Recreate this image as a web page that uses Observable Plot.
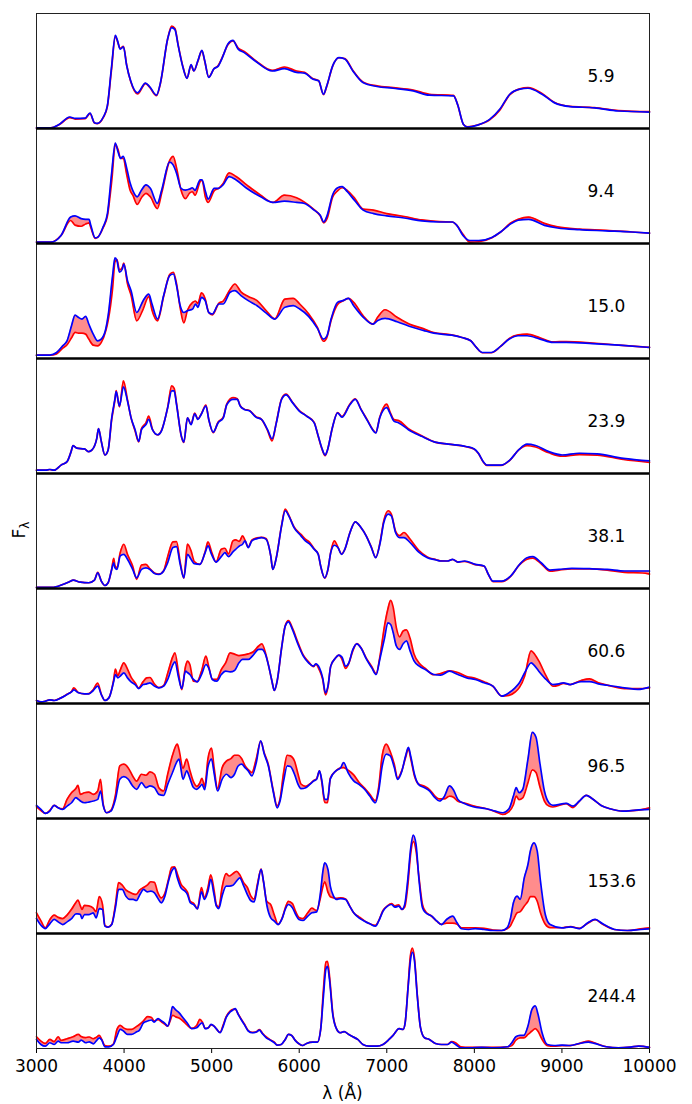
<!DOCTYPE html>
<html>
<head>
<meta charset="utf-8">
<script src="https://cdn.jsdelivr.net/npm/d3@7"></script>
<script src="https://cdn.jsdelivr.net/npm/@observablehq/plot@0.6"></script>
<style>
  html, body { margin: 0; padding: 0; background: #fff; }
  #chart { width: 692px; height: 1104px; }
</style>
</head>
<body>
<div id="chart"></div>
<script>
// Epoch labels (days), top to bottom
const epochs = ["5.9", "9.4", "15.0", "23.9", "38.1", "60.6", "96.5", "153.6", "244.4"];
const xTicks = [3000, 4000, 5000, 6000, 7000, 8000, 9000, 10000];

// Spectra: wavelength (Å), blue-model flux and red-model flux (scaled per panel, 0–100)
const wave1 = [3000,3165,3257,3381,3441,3556,3611,3662,3694,3763,3809,3855,3901,3924,3956,3993,4029,4075,4153,4245,4291,4370,4416,4498,4544,4581,4618,4673,4719,4765,4797,4843,4889,4921,4967,5027,5073,5119,5188,5243,5303,5372,5510,5693,5831,5969,6061,6153,6222,6277,6314,6383,6452,6521,6613,6727,6888,7072,7302,7486,7762,7808,7876,7922,8037,8175,8290,8405,8520,8612,8773,8911,9094,9370,9646,10000];
const blue1 = [0.5,0.5,3.5,10,8.8,9,13.5,5,4.4,10,19.6,52,81,76.6,69,71,55,41.5,31,39.5,36.5,29,40,78,87.7,86,72,53,43.6,55.6,50,59,68,59,44.4,52,54,61,73.7,76.6,69,66,58,50,52,48.8,48.2,43,41.5,29.8,37,54.7,61.7,60.5,50,40,36.5,35,32.7,29,28.4,21,3.5,1.2,2.9,7.9,16.7,29.8,34.2,35,29.8,22.5,19,18,15.2,14.3];
const red1 = [0.5,0.5,3.2,9.5,8.2,8.6,13,4.8,4.2,9.6,19,50,80,76,69.5,71.5,55.5,41,30,39,36,28.5,39.5,78,89,87,72.5,53.5,43.8,55,50,58.5,67.5,58.5,44.6,52,54.5,61.5,73,76.2,70,67,58.5,50.5,53.5,50,48.8,43.5,41.5,29.5,36.5,54.5,61.5,60.8,50.5,40.5,37,35.5,33.5,29.8,28.8,21,3.5,1.5,3,7.5,16,29.5,34.5,35.5,30.5,22.8,19.2,18.2,15.6,14.6];

const wave2 = [3000,3165,3280,3390,3440,3510,3560,3600,3620,3670,3700,3760,3810,3860,3900,3930,3960,3990,4030,4070,4100,4150,4200,4250,4300,4380,4430,4520,4560,4600,4650,4700,4750,4780,4810,4870,4890,4930,4960,5030,5080,5130,5200,5280,5400,5560,5700,5830,5970,6060,6170,6240,6280,6320,6380,6440,6490,6550,6630,6730,6850,7000,7200,7400,7600,7750,7800,7870,7950,8050,8200,8300,8420,8500,8620,8800,8950,9200,9500,9800,10000];
const blue2 = [1.2,1.2,7,23,24,21.6,21,21,15.8,5,5.5,14.3,26,62.6,87.4,80,74,75.7,65.5,52.3,46,40.6,46.5,51,48,34.8,46.5,70.8,68.4,61,48,46.5,47.4,48.5,46.2,55.3,55.3,45,38.6,48,48,51,58.2,55.3,48,40.6,35.7,36.8,35.7,34.8,29,24.6,18.7,24.6,42,48.5,49.4,45,37.7,29,26,24,22.2,19.6,18.7,18.7,15.8,7,2.6,2.6,5.3,10,17.3,20.2,21,15.8,13.5,12,11,10,9];
const red2 = [1.2,1.2,7,20,16,15,17,18,14,4.5,5.5,13.5,24,55,86,82,74,74,60,46,42,34,40,43.6,40.6,30.4,44,72,75.7,65.5,46.5,39,44,45,42,54,55,40,35.7,46,48,52,61.4,58.2,51,42,35.7,42,39.8,36,29.5,24,18,22,40,46,48.5,46,39.8,30,29,26,23.5,20.5,19,18.7,15.8,8,1.2,1.5,5,10,18,21,23,17.5,14.5,12.5,11.5,10,9];

const wave3 = [3000,3152,3230,3299,3349,3400,3441,3478,3519,3561,3597,3648,3699,3740,3791,3818,3869,3896,3919,3947,3979,3997,4039,4080,4144,4218,4282,4319,4383,4452,4521,4563,4599,4641,4682,4724,4783,4816,4843,4884,4926,4967,5008,5082,5133,5211,5266,5335,5418,5519,5624,5721,5836,5932,6006,6107,6208,6277,6314,6364,6438,6497,6562,6622,6732,6842,6897,6980,7118,7256,7417,7536,7739,7858,7959,8023,8092,8193,8299,8400,8501,8602,8750,8897,9048,9347,9651,10000];
const blue3 = [2.9,2.9,5.2,11,15.4,28.5,37.8,35.8,34.3,36.6,30,21.2,15.4,16.9,25.6,37.2,72,87.5,85,75,77.6,82,67.7,59,40,50.3,56,47.4,34.3,54.7,72,73.5,63.4,45.9,40,41.6,43,47.4,44.5,53.2,50.3,40,38.7,47.4,47.4,57.6,59,54.7,50.3,45.9,39.5,34.3,44.5,45.9,43,36.6,26.2,16.9,19.2,34.3,48.8,50.3,52.3,45.9,35.8,29.9,33,34.9,32,28,24.5,22,20.3,18.3,15.4,9.6,5.2,5.2,10.5,16.9,19.8,19.8,16.9,14,14,13,11.6,9.6];
const red3 = [2.9,2.9,4,9,12,18,22.7,22,22,21.2,16.9,11.6,11,14,24,33,61,84,86,77,79,83,65,55,32.8,43,54,42,32.8,54,73,75,65,44,31,42,48.8,50,48,57,52,40,38,48,50,60,64.8,58,54,50.3,41.5,34.5,51.7,52.3,47.4,39,27,15,18,33,47,50,52.3,48.8,37,29.9,36,42.4,35.8,30,26,22.6,20.5,18.3,15.4,9.6,5,5,10.5,17.5,20.5,21.2,18,14.5,14.8,13.5,11.6,9.6];

const wave4 = [3000,3101,3152,3202,3280,3349,3395,3418,3460,3547,3597,3634,3689,3708,3740,3781,3818,3859,3896,3910,3947,3993,4039,4080,4126,4167,4199,4250,4282,4324,4383,4425,4498,4544,4572,4599,4655,4682,4724,4765,4806,4843,4880,4935,4967,5018,5073,5133,5174,5243,5293,5326,5372,5436,5505,5569,5638,5690,5739,5799,5850,5923,6001,6084,6171,6213,6259,6296,6323,6378,6438,6488,6580,6640,6705,6782,6838,6874,6920,6998,7040,7081,7137,7247,7398,7550,7702,7904,8000,8046,8102,8143,8304,8405,8506,8602,8699,8851,9002,9200,9402,9701,10000];
const blue4 = [2.9,2.9,3.5,2.9,7.3,10.3,19,24.3,22,21.4,19,20.5,30.8,39,27.9,16.1,20.5,48.4,65,71.3,58.7,75.4,63,48.4,38.1,27.9,38.1,42.5,47,38.1,33.7,36.7,57.2,71.8,71.8,60,32.3,27.3,48.4,42.5,51.9,47,51.3,58.7,47,36,44,48.4,60,64.5,64.5,58.7,55.7,54.3,49,47,38.1,30.2,44,64.5,68.3,61.6,54.3,49.9,44,33.7,22,16.1,20.5,39.6,52.8,49,60,64.5,55.7,45.5,38.1,35.2,48.4,57.2,51.9,45.5,44,38.1,32.3,27.3,25.5,23.5,21.4,17.6,10.3,7.3,7.3,11.7,20.5,25.5,24.3,19,16.1,17.6,17,13.2,10.9];
const red4 = [2.9,2.9,3.5,2.9,7.3,10.3,19,24.3,22,21.4,19,20.5,30.8,39,27.9,16.1,20.5,47,64,72,58,80.6,64,48.4,37,27.5,39,44,49.9,38.5,33.5,37,57.5,76.2,74,61,32,27,48.4,43,52.5,47.5,51.5,59.5,47,35.5,44.5,49,60.5,66,65,59,56,54.5,49.5,47,37.5,28.4,44.5,65,69,62,54.8,50,44.5,33.5,21.5,15.5,20.5,39.6,53,49.5,60.5,65,56,46,38.5,35.5,49,60.4,53,47,46,39,32.8,27.3,25.5,23.3,21,17.5,10,7,7,11.5,20.5,24.3,23,18,15,16.5,16,12.2,9.7];

const wave5 = [3000,3152,3248,3322,3381,3418,3501,3597,3662,3699,3740,3781,3818,3859,3882,3896,3919,3956,3997,4039,4098,4144,4199,4250,4296,4347,4397,4452,4498,4558,4599,4641,4682,4724,4765,4802,4866,4926,4958,4999,5050,5110,5151,5192,5243,5275,5317,5353,5381,5418,5459,5519,5569,5620,5675,5698,5739,5799,5840,5882,5941,6020,6070,6121,6171,6217,6245,6291,6328,6360,6401,6442,6484,6521,6580,6640,6705,6764,6824,6874,6925,6966,7017,7053,7100,7146,7196,7265,7362,7463,7564,7614,7693,7752,7812,7890,8010,8111,8161,8212,8313,8414,8515,8602,8667,8763,8865,8966,9113,9315,9517,9715,9917,10000];
const blue5 = [0.9,0.9,2,4.1,6.1,7.3,5.5,5,7.3,13.7,6.4,2.6,5,16.6,22.4,18,16.6,28.3,29.7,25.4,16.6,9.3,16.6,18,16.6,13.1,12.2,15.2,22.4,35.6,36.4,21,9.3,29.7,25.4,21.6,21,31.2,37,29.7,23,27.7,31.2,27.7,31.8,34.1,37,38.5,41.4,35.6,41.4,43.4,44.3,42.9,28.3,16.6,26.8,54.5,67.6,63,53,45.8,41.4,38.5,34.1,29.7,19.5,9.3,16.6,31.2,37.6,35.6,29.7,34.1,48.7,58,53,45.8,35.6,26.8,40,57.4,64.7,63,48.7,44.3,44.3,40,31.8,26.8,24.8,23.9,23.9,25.4,23,23.9,21,19.5,12.2,6.4,6.4,10.8,20.9,26.8,27.7,22.4,16,16.6,17.5,17.2,16.6,15.2,15.2,15.2];
const red5 = [0.9,0.9,2,4.1,6.1,7.3,5.5,5,7.3,14,6.4,2.6,5,17,26.2,20,18,31.2,38.5,29.7,19.5,8,20.4,21,17,13.5,12.5,15.5,27.7,40.5,40.8,23,9,38.5,32.7,23.5,21,32,40.5,32,23,34.1,35,30,41.4,42.3,41,45.8,42,36,42,44,44.5,43.5,28.3,16.6,27,55,69,63.5,53.5,47,43,40,34.5,30,19.5,9,16.5,31.5,41.4,36,30,34,48.7,58,53,46,36,27,41,59,67.6,64.5,50,46,48.7,43,33.5,27.5,25,24,23.9,25.2,23,23.5,20.8,19.3,12,6,6,10.5,20.5,25.5,26.5,21.5,15,16,17,17,16,14,13.5,12.5];

const wave6 = [3000,3051,3101,3152,3202,3280,3349,3400,3427,3478,3547,3597,3648,3699,3740,3781,3827,3882,3901,3928,3956,3997,4039,4080,4126,4167,4218,4259,4296,4347,4397,4452,4498,4558,4581,4623,4659,4701,4724,4751,4792,4834,4884,4935,4967,5008,5059,5110,5160,5211,5261,5312,5353,5418,5477,5537,5574,5615,5656,5689,5716,5748,5799,5840,5877,5923,5987,6047,6107,6162,6190,6231,6268,6300,6328,6360,6410,6452,6488,6530,6567,6613,6658,6709,6769,6829,6879,6920,6975,7012,7044,7072,7109,7146,7187,7224,7265,7311,7371,7440,7536,7614,7716,7812,7913,8010,8111,8212,8313,8396,8465,8515,8575,8648,8676,8736,8819,8897,8966,9016,9094,9218,9315,9416,9517,9715,9866,10000];
const blue6 = [2.6,1.4,2,3.2,2.6,4.9,7.8,10.1,11.9,9.3,8.4,8.4,11.3,15.1,7.8,2.6,4.9,19.4,25.2,22.3,23.8,26.7,22.3,18.8,16.5,13,16.5,17.1,18,15.1,13.6,15.1,20.9,33.9,36.2,22.3,13,28.1,27,25.2,20.9,18.8,25.2,33.9,30.7,20.9,19.4,25.2,28.1,27.5,28.7,35.4,38.3,38.3,42.3,47,47,42.6,31,19.4,11.3,19.4,48.4,67.2,71,64.3,51.3,41.2,35.4,32.5,34.5,31,22.3,9.3,15.1,32.5,39.1,42,40.3,32.5,35.4,47,51.9,47.8,38.3,31,25.2,38.3,57.1,70.1,68.7,62,50,47,52,54.5,46,37,32.5,29.5,25.2,24.6,28.1,25.2,22.3,20.9,18,15.1,6.4,9.3,13.6,18,26.7,35.4,33.9,28.1,20.9,16.5,17.1,18,16.5,19.1,19.1,17.1,15.9,13.6,12.2,14.2];
const red6 = [2.6,1.4,2,3.2,2.6,4.9,8,10.5,13.6,9.5,8.4,8.6,12,17.7,8,2.6,5,21,29.9,24,29,35.4,29.9,23,18,13.5,19,22.3,22.6,17,13.8,15.5,26.4,41,44.1,26,12,32,36.8,33.9,19.4,19,28,41.2,32,21,21,29.5,35.4,44,42.9,41.7,42,43.2,45,50,51.9,44,31,19.4,11.3,19.4,48.4,67.5,72,65.5,52.8,42,36.2,32,34,29,21,7.5,14,32.5,39.1,42,38.5,30.5,35,46,52,48,39,32,26,40,68,82,89.6,84,66,58,63,64,57,43,35,30.5,25,26,28.5,27,23.5,22,19,15,6.4,7,10,14,24,45.8,44,37,24,15,16,17.5,16.5,20,21.5,18,16,13,13,13.5];

const wave7 = [3000,3051,3101,3152,3202,3248,3299,3349,3400,3450,3473,3501,3547,3597,3648,3699,3731,3763,3800,3850,3901,3951,3997,4048,4098,4144,4199,4250,4296,4347,4397,4452,4498,4553,4608,4627,4673,4715,4751,4792,4829,4866,4889,4921,4958,4999,5027,5068,5119,5169,5220,5261,5303,5344,5381,5418,5459,5510,5560,5601,5647,5702,5748,5781,5822,5863,5900,5946,5987,6020,6075,6121,6167,6199,6231,6259,6291,6323,6355,6419,6475,6507,6558,6622,6682,6746,6806,6870,6907,6948,6994,7040,7086,7123,7173,7215,7247,7274,7316,7362,7431,7490,7550,7601,7656,7716,7762,7812,7886,7987,8138,8239,8322,8396,8446,8478,8510,8552,8612,8662,8704,8750,8800,8851,8897,9048,9126,9200,9278,9347,9448,9549,9696,9848,10000];
const blue7 = [11.4,7.9,4.4,6.4,11.4,9.3,7.9,10.8,13.7,18.1,17,15.2,13.7,14.3,15.2,16.6,23.9,10.8,5,6.4,16.6,34.1,36.4,34.1,28.3,25.4,31.2,26.8,28.3,26.8,21,20.1,29.7,40,50,51.6,34.1,41.4,35,27,25.4,27.7,29.7,25,45,51.6,40,23.9,34.1,38.5,35.6,38.5,45.8,47.2,44.3,41.4,37,48.7,67.6,56,45.8,23.9,9.3,15.2,32.7,45.8,45.2,38.5,29.7,25.9,26.8,29.7,32.7,34.1,41.4,32.7,16.6,16.6,34.3,41.4,44.3,48.7,39.9,32.7,29.7,25.4,19.5,13.7,23.9,45.8,56,54.5,44.3,34.1,41.4,54.5,61.8,53.9,38.5,29.7,26.8,23.9,18.1,15.2,19,28.3,24.8,16.6,13.1,10.2,8.5,6.4,5,8.5,19.5,26.8,22.4,25.2,51.6,74.9,70.6,47.2,23.9,13.7,11.4,13.1,10.8,15.2,20.1,17.2,11.4,8.5,6.4,7.3,7.9];
const red7 = [10.2,7,4.4,7,11.4,9.3,8.5,16.6,22.4,26,28.9,21,22.4,23,21,23.9,34.1,12,5,7,20,45.8,47.2,44,37,32.5,38.5,37.6,40.5,38.5,26.8,23.9,38.5,55,64.7,60,43.7,51.6,42,32,28,31,35,28,52,61.2,45,26,44,49.9,52,55,55,52,46,42.5,40,52,67,57,47,25,11,17,40,55,54.5,50,38.5,30,28,30,33,34.5,41.4,31,14,13.7,35,41.4,44,44.3,42,37.9,31.5,26.5,21,15.5,27,55,64.7,58,47,35,42,53,60.5,52,37,30,28,25,19.5,17,17,19.5,18.5,15,13.5,11,8.5,6,3.5,6,12,19.5,16.5,18,31.2,42.3,40,27.1,15.2,10.8,10,13,9.5,15.2,20.1,17.2,11.4,8.5,6.4,7,9.3];

const wave8 = [3000,3051,3101,3152,3202,3248,3299,3349,3400,3450,3473,3501,3519,3547,3597,3648,3680,3717,3754,3781,3818,3859,3901,3938,3979,4020,4062,4103,4140,4181,4222,4264,4305,4347,4383,4425,4466,4507,4544,4576,4608,4650,4696,4724,4756,4797,4838,4884,4917,4958,4990,5027,5054,5082,5119,5165,5201,5243,5284,5321,5367,5408,5445,5486,5523,5565,5592,5629,5675,5716,5758,5808,5840,5877,5923,5960,5997,6043,6098,6144,6199,6245,6268,6291,6328,6355,6392,6424,6475,6530,6576,6622,6682,6746,6806,6870,6907,6957,7008,7053,7095,7137,7173,7205,7238,7274,7302,7334,7366,7408,7444,7513,7573,7624,7683,7752,7803,7853,7936,8010,8111,8212,8313,8373,8414,8446,8488,8524,8570,8612,8639,8681,8718,8755,8810,8865,8998,9099,9200,9296,9379,9466,9600,9747,9898,10000];
const blue8 = [13,7.2,4.3,8.4,12.2,10.1,7.8,10.1,13,17.1,17,16.5,13,16.5,16.5,18,13.6,21.7,20.9,6.4,5.5,7.8,22.3,38.3,38.3,32.5,29.6,29.6,28.7,33.9,38.3,36.2,36.8,35.4,31,26.7,32.5,45.5,54.2,57.1,48.4,39.7,36.8,33.9,26.7,25,21.4,36.2,29.6,36.8,47,33.9,23.8,21.7,32.5,41.2,41.2,42,45.5,48.4,41.2,33.9,28.7,27.5,41.2,55.7,45.5,25.2,13.6,10.7,7.8,13.6,20.9,25.2,22.3,16.5,12.2,11.3,15.1,18,18.8,36.8,52.8,61.4,55.7,41.2,32.5,29.6,30.4,29.6,23.8,18,13.6,10.7,8.4,6.4,10.7,19.4,23.8,25.2,22.9,23.8,20.9,25.2,45.5,74.5,85.5,77.4,48.4,22.3,18,15.1,10.7,7.8,12.2,15.1,9.3,4.1,3.5,4.3,3.5,2.6,2.6,4.9,13.6,26.7,32.5,29.6,48.4,60,71.6,78.8,71.6,45.5,16.5,7.8,4.9,5.8,4.3,9.3,12.2,8.4,3.5,2.6,3.5,4.1];
const red8 = [18,11,5,12,16,14,13,16,21,27,29,24,21,24.5,24,22,19,32,25,7,5.5,8,25,44.3,42,38,36,34.5,34,38,40,42,45,44.5,36,31,35,47,57.5,58,52,43,39,36,28,26,21.5,40,31,40,51,38,25,23,40,52,50,52,54,51,44,40,33,30,43,56,45,28,25,16,8,14,22,28,26,19,14,13,18,22,20,32,40,45,36,32,31,30.5,31,30,24,18,14.5,11,8.4,7,11,20,24,26,24,25,21,23,40,70,80,72,50,25,19,15,10.5,8,9,9,8,5,5,5,4.5,3,2.6,4,7,12,18,19,24,28,32,32,28,18,8,5,5,6,4.5,9,12,8,3.5,2.6,4,5];

const wave9 = [3000,3051,3101,3152,3202,3248,3280,3349,3418,3478,3510,3561,3602,3648,3680,3717,3745,3781,3827,3878,3919,3956,3993,4039,4085,4140,4176,4222,4268,4314,4342,4388,4429,4466,4498,4526,4553,4590,4627,4673,4719,4774,4829,4866,4894,4926,4962,4994,5027,5059,5096,5133,5165,5211,5243,5270,5303,5335,5372,5418,5464,5510,5546,5578,5624,5670,5716,5748,5794,5840,5877,5914,5951,5992,6038,6084,6153,6208,6245,6277,6305,6323,6346,6383,6429,6466,6512,6567,6613,6668,6727,6797,6888,6957,7026,7072,7141,7187,7210,7242,7270,7293,7316,7348,7385,7431,7486,7555,7624,7693,7739,7785,7844,7945,8083,8221,8382,8428,8474,8520,8565,8612,8658,8695,8727,8773,8833,8911,9002,9094,9186,9301,9370,9508,9646,9784,9876,10000];
const blue9 = [7.9,3.5,2,5,3.5,6.4,5,5,6.4,5.5,7.3,5,5.8,4.1,6.4,9.3,7.3,1.5,1.5,3.5,10.8,16.6,15.2,12.2,12.2,14.3,16,22.4,23.9,24.8,23,25.9,23.9,21.9,19.5,25.9,36.4,33.5,31.2,26.8,22.4,17.2,18.1,21,22.4,17.2,18.1,21,19.5,16.6,13.7,19.5,26.8,31.8,33.5,34.7,29.7,25.4,21,15.2,13.7,14.3,16,13.1,9.3,7.3,5,2.9,3.5,7.9,12.2,11.4,7.3,4.4,2.6,4.4,5.5,5.5,16.6,45.8,69.1,71.4,59.8,29.7,16.6,13.7,14.6,12.2,10.2,7.9,3.5,2,2,3.5,7.9,11.4,17.2,16.6,22.4,51.6,76.4,83.7,76.4,45.8,18.1,9.3,7.9,4.4,3.5,3.5,5.5,3.5,0.6,0.6,0.9,0.6,1.5,5,10.2,11.4,11.4,19.5,34.1,37,29.7,13.7,3.5,2.6,2.9,2.6,4.1,5.5,4.4,1.5,0.6,1.2,2,0.9];
const red9 = [10.2,6.4,4.4,7.9,6,10.2,7,8.5,10.2,12.2,10.5,9.5,10,8.5,9.5,11.5,8,2.5,2,3.8,16.6,20.1,18,16.6,16.6,19,20.9,24,27.7,27,24,25,23,21,19.5,24,28.9,27.5,26.5,23.9,20.5,17.5,20,25.4,23,17.5,18,20.5,19.5,16.6,14,20.5,27.5,32.5,34,34,30,26,21.5,15.5,14,14.5,16.5,13.5,10,7.5,5.5,3,3.5,7.9,12.2,11.4,7.5,4.4,2.6,4.4,5.5,5.5,16.6,51.6,75.2,75.8,63,31,16.6,13.7,14.6,12.2,10.2,7.9,3.5,2,2,3.5,7.9,11.4,17.2,16.6,22.4,53,80.8,87.2,78.7,47,18.1,9.3,7.9,4.4,3.5,3.5,6,5,1.5,1,1,1,1.5,2.5,7.3,9.3,9.3,12.2,15.2,17.2,15,8,2.5,2,2.5,2.5,4,6.5,5,1.5,0.6,1.2,2,1];

const waves = [wave1, wave2, wave3, wave4, wave5, wave6, wave7, wave8, wave9];
const blues = [blue1, blue2, blue3, blue4, blue5, blue6, blue7, blue8, blue9];
const reds  = [red1, red2, red3, red4, red5, red6, red7, red8, red9];

// Long-format table: one row per wavelength sample per epoch
const rows = [];
epochs.forEach((epoch, k) => {
  waves[k].forEach((w, i) => rows.push({epoch, wave: w, blue: blues[k][i], red: reds[k][i]}));
});

// Panels that sit above another panel get a heavy separator line
const separators = epochs.slice(0, -1).map(epoch => ({epoch, base: 0}));

const curve = "monotone-x";

const chart = Plot.plot({
  width: 692,
  height: 1104,
  marginTop: 10,
  marginBottom: 54,
  marginLeft: 36,
  marginRight: 43,
  style: {fontFamily: "'DejaVu Sans', sans-serif", fontSize: "17px", color: "black", background: "white", overflow: "visible"},
  x: {domain: [3000, 10000], ticks: xTicks, tickFormat: d => String(d), tickSize: 5, tickPadding: 6, label: null},
  y: {domain: [0, 100], axis: null},
  fy: {domain: epochs, padding: 0, axis: null},
  marks: [
    Plot.areaY(rows, {x: "wave", y1: "blue", y2: "red", fy: "epoch", curve, fill: "#ff0000", fillOpacity: 0.45}),
    Plot.lineY(rows, {x: "wave", y: "red", fy: "epoch", curve, stroke: "#ff0000", strokeWidth: 1.7}),
    Plot.lineY(rows, {x: "wave", y: "blue", fy: "epoch", curve, stroke: "#0000ff", strokeWidth: 1.7}),
    Plot.frame({stroke: "#222", strokeWidth: 1}),
    Plot.ruleY(separators, {y: "base", fy: "epoch", stroke: "black", strokeWidth: 2.4}),
    Plot.text(epochs, {fy: d => d, text: d => d, frameAnchor: "right", textAnchor: "start", dx: -62, dy: 6, fontSize: 17, fill: "black"})
  ]
});

document.getElementById("chart").appendChild(chart);

// Axis titles: F_λ (rotated, left) and λ (Å) (bottom)
const svg = d3.select(chart.tagName.toLowerCase() === "svg" ? chart : chart.querySelector("svg"));
const ylab = svg.append("text")
  .attr("transform", "translate(25,530) rotate(-90)")
  .attr("text-anchor", "middle")
  .attr("font-size", 17)
  .attr("fill", "black");
ylab.append("tspan").text("F");
ylab.append("tspan").attr("font-size", 12).attr("dy", 4).text("λ");

svg.append("text")
  .attr("x", (36 + 649) / 2)
  .attr("y", 1099)
  .attr("text-anchor", "middle")
  .attr("font-size", 17)
  .attr("fill", "black")
  .text("λ (Å)");
</script>
</body>
</html>
